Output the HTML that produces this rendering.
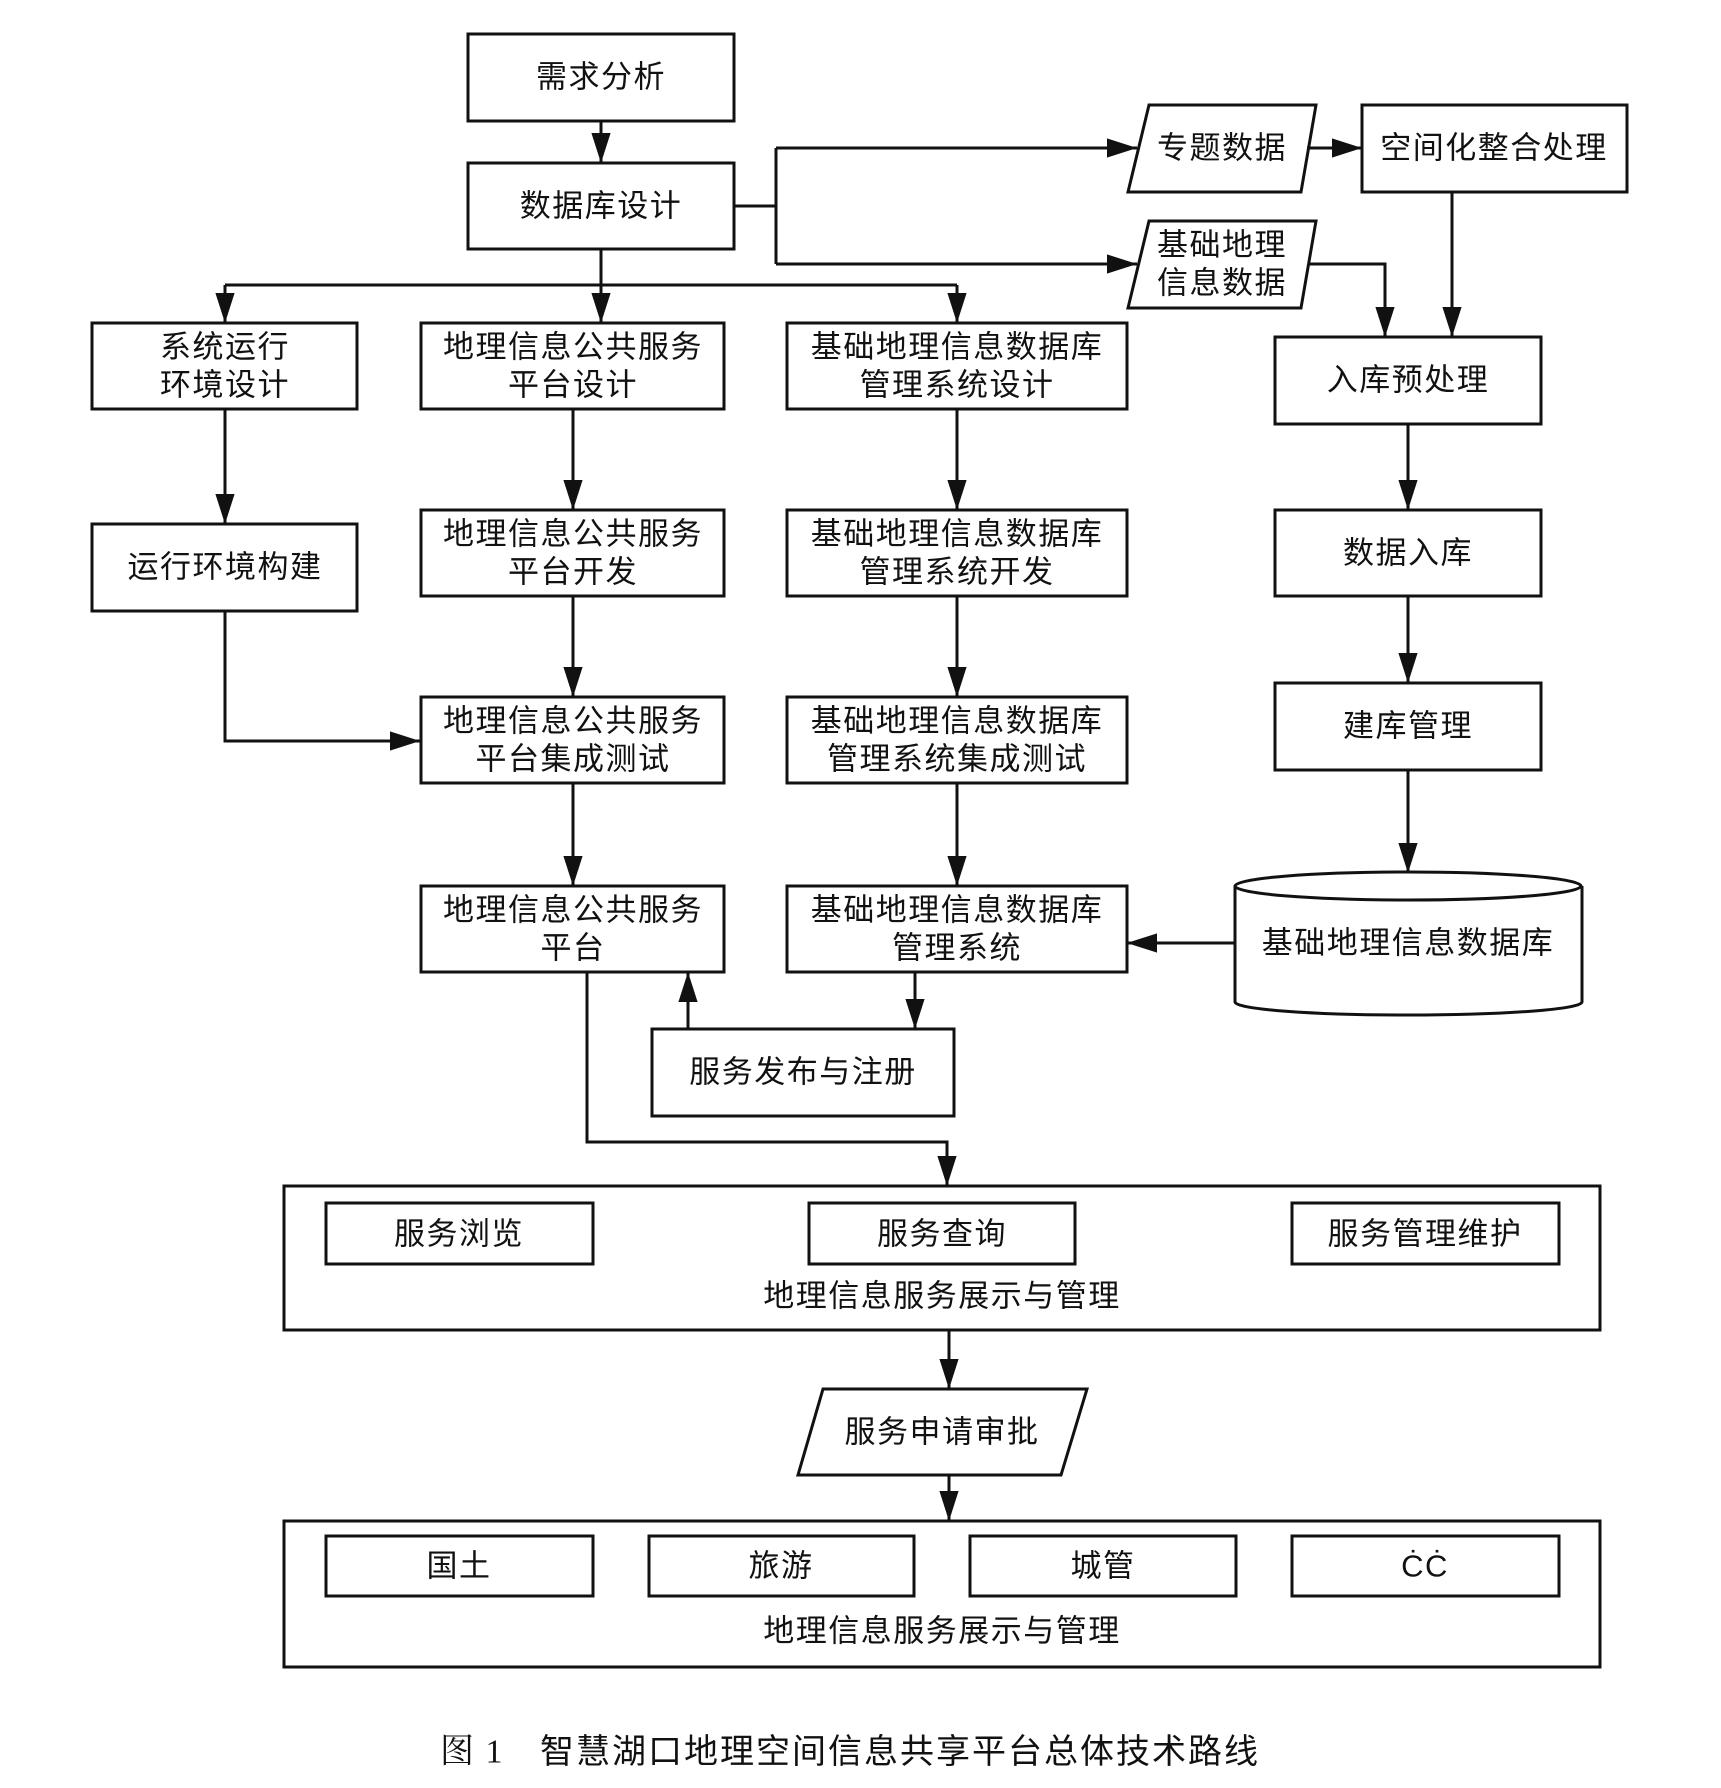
<!DOCTYPE html>
<html><head><meta charset="utf-8"><style>
html,body{margin:0;padding:0;background:#fff;}
svg{display:block;}
text{font-family:"Liberation Sans","Noto Sans CJK SC",sans-serif;font-size:31px;fill:#111;text-anchor:middle;dominant-baseline:central;letter-spacing:1.5px;}
.b{fill:#fff;stroke:#111;stroke-width:3;}
.l{fill:none;stroke:#111;stroke-width:3;}
</style></head><body>
<svg width="1721" height="1788" viewBox="0 0 1721 1788" xmlns="http://www.w3.org/2000/svg">
<defs>
<marker id="m" viewBox="0 0 10 10" refX="10" refY="5" markerWidth="30" markerHeight="30" markerUnits="userSpaceOnUse" orient="auto"><path d="M0,1.8L10,5L0,8.2z" fill="#111"/></marker></defs>

<rect class="b" x="468" y="34" width="266" height="87"/><text x="601" y="77">需求分析</text>
<rect class="b" x="468" y="163" width="266" height="86"/><text x="601" y="206">数据库设计</text>
<path class="l" d="M601,121V163" marker-end="url(#m)"/>
<path class="l" d="M734,206H776M776,148V264M776,148H1137" marker-end="url(#m)"/>
<path class="l" d="M776,264H1137" marker-end="url(#m)"/>

<polygon class="b" points="1149,105 1316,105 1301,192 1128,192"/><text x="1222" y="148">专题数据</text>
<rect class="b" x="1362" y="105" width="265" height="87"/><text x="1494" y="148">空间化整合处理</text>
<path class="l" d="M1307,148H1362" marker-end="url(#m)"/>
<polygon class="b" points="1149,221 1316,221 1301,308 1128,308"/><text x="1222" y="245">基础地理</text><text x="1222" y="283">信息数据</text>
<path class="l" d="M1309,264H1385V337" marker-end="url(#m)"/>
<path class="l" d="M1452,192V337" marker-end="url(#m)"/>

<rect class="b" x="1275" y="337" width="266" height="87"/><text x="1408" y="380">入库预处理</text>
<path class="l" d="M1408,424V510" marker-end="url(#m)"/>
<rect class="b" x="1275" y="510" width="266" height="86"/><text x="1408" y="553">数据入库</text>
<path class="l" d="M1408,596V683" marker-end="url(#m)"/>
<rect class="b" x="1275" y="683" width="266" height="87"/><text x="1408" y="726">建库管理</text>
<path class="l" d="M1408,770V873" marker-end="url(#m)"/>
<path class="b" d="M1235,886V1002A173,13 0 0 0 1582,1002V886"/>
<ellipse class="b" cx="1408" cy="886" rx="173" ry="14"/>
<text x="1408" y="943">基础地理信息数据库</text>
<path class="l" d="M1235,943H1127" marker-end="url(#m)"/>

<path class="l" d="M601,249V323M225,285H957M225,285V323" marker-end="url(#m)"/>
<path class="l" d="M957,285V323" marker-end="url(#m)"/>
<path class="l" d="M601,285V323" marker-end="url(#m)"/>

<rect class="b" x="92" y="323" width="265" height="86"/><text x="225" y="347">系统运行</text><text x="225" y="385">环境设计</text>
<path class="l" d="M225,409V524" marker-end="url(#m)"/>
<rect class="b" x="92" y="524" width="265" height="87"/><text x="225" y="567">运行环境构建</text>
<path class="l" d="M225,611V741H420" marker-end="url(#m)"/>

<rect class="b" x="421" y="323" width="303" height="86"/><text x="573" y="347">地理信息公共服务</text><text x="573" y="385">平台设计</text>
<path class="l" d="M573,409V510" marker-end="url(#m)"/>
<rect class="b" x="421" y="510" width="303" height="86"/><text x="573" y="534">地理信息公共服务</text><text x="573" y="572">平台开发</text>
<path class="l" d="M573,596V697" marker-end="url(#m)"/>
<rect class="b" x="421" y="697" width="303" height="86"/><text x="573" y="721">地理信息公共服务</text><text x="573" y="759">平台集成测试</text>
<path class="l" d="M573,783V886" marker-end="url(#m)"/>
<rect class="b" x="421" y="886" width="303" height="86"/><text x="573" y="910">地理信息公共服务</text><text x="573" y="948">平台</text>

<rect class="b" x="787" y="323" width="340" height="86"/><text x="957" y="347">基础地理信息数据库</text><text x="957" y="385">管理系统设计</text>
<path class="l" d="M957,409V510" marker-end="url(#m)"/>
<rect class="b" x="787" y="510" width="340" height="86"/><text x="957" y="534">基础地理信息数据库</text><text x="957" y="572">管理系统开发</text>
<path class="l" d="M957,596V697" marker-end="url(#m)"/>
<rect class="b" x="787" y="697" width="340" height="86"/><text x="957" y="721">基础地理信息数据库</text><text x="957" y="759">管理系统集成测试</text>
<path class="l" d="M957,783V886" marker-end="url(#m)"/>
<rect class="b" x="787" y="886" width="340" height="86"/><text x="957" y="910">基础地理信息数据库</text><text x="957" y="948">管理系统</text>

<rect class="b" x="652" y="1029" width="302" height="87"/><text x="803" y="1072">服务发布与注册</text>
<path class="l" d="M915,972V1029" marker-end="url(#m)"/>
<path class="l" d="M688,1029V972" marker-end="url(#m)"/>
<path class="l" d="M587,972V1142H947V1186" marker-end="url(#m)"/>

<rect class="b" x="284" y="1186" width="1316" height="144"/>
<rect class="b" x="326" y="1203" width="267" height="61"/><text x="459" y="1234">服务浏览</text>
<rect class="b" x="809" y="1203" width="266" height="61"/><text x="942" y="1234">服务查询</text>
<rect class="b" x="1292" y="1203" width="267" height="61"/><text x="1425" y="1234">服务管理维护</text>
<text x="942" y="1296">地理信息服务展示与管理</text>
<path class="l" d="M949,1330V1389" marker-end="url(#m)"/>
<polygon class="b" points="823,1389 1087,1389 1061,1475 798,1475"/><text x="942" y="1432">服务申请审批</text>
<path class="l" d="M949,1475V1521" marker-end="url(#m)"/>

<rect class="b" x="284" y="1521" width="1316" height="146"/>
<rect class="b" x="326" y="1536" width="267" height="60"/><text x="459" y="1566">国土</text>
<rect class="b" x="649" y="1536" width="265" height="60"/><text x="781" y="1566">旅游</text>
<rect class="b" x="970" y="1536" width="266" height="60"/><text x="1103" y="1566">城管</text>
<rect class="b" x="1292" y="1536" width="267" height="60"/><text x="1425" y="1566">ĊĊ</text>
<text x="942" y="1631">地理信息服务展示与管理</text>

<text x="472" y="1752" style="font-family:'Liberation Serif','Noto Serif CJK SC',serif;font-size:34px">图 1</text>
<text x="900" y="1752" style="font-size:34px;letter-spacing:2px">智慧湖口地理空间信息共享平台总体技术路线</text>
</svg>
</body></html>
